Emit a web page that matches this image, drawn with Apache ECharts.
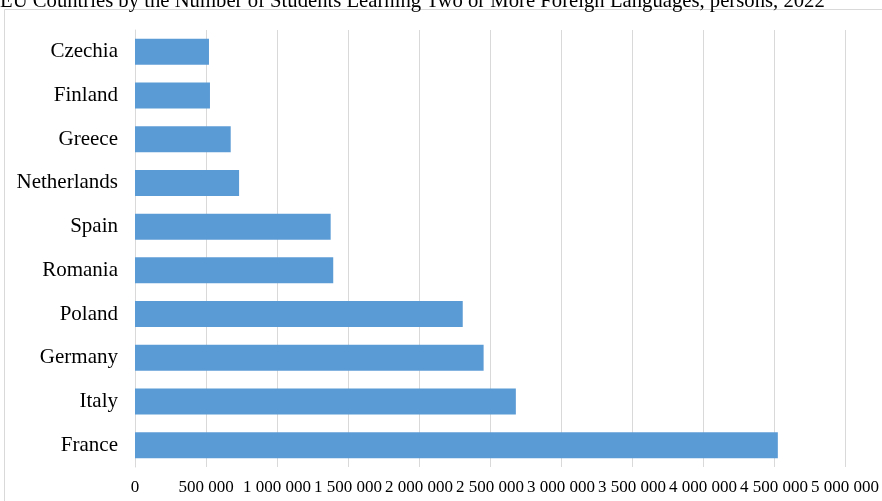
<!DOCTYPE html>
<html>
<head>
<meta charset="utf-8">
<script src="https://cdn.jsdelivr.net/npm/echarts@6/dist/echarts.min.js"></script>
<style>
html,body{margin:0;padding:0;background:#fff;}
#chart{width:882px;height:501px;}
</style>
</head>
<body>
<div id="chart"></div>
<script>
const titleText = 'EU Countries by the Number of Students Learning Two or More Foreign Languages, persons, 2022';
const countries = ['Czechia','Finland','Greece','Netherlands','Spain','Romania','Poland','Germany','Italy','France'];
const students = [521000, 528000, 674000, 733000, 1378000, 1396000, 2308000, 2455000, 2682000, 4527000];
const axisMin = 0;
const axisMax = 5000000;
const axisStep = 500000;

function fmt(v){
  return String(v).replace(/\B(?=(\d{3})+(?!\d))/g, ' ');
}

const chart = echarts.init(document.getElementById('chart'), null, {renderer:'canvas'});
const serif = '"Liberation Serif", "Times New Roman", serif';
chart.setOption({
  animation: false,
  backgroundColor: '#ffffff',
  title: {
    text: titleText,
    left: -5,
    top: -14,
    textStyle: {fontFamily: serif, fontSize: 20.7, fontWeight: 'normal', color: '#000'}
  },
  graphic: [{
    type: 'rect',
    shape: {x: 4.5, y: 9.5, width: 900, height: 600},
    style: {fill: 'none', stroke: '#d9d9d9', lineWidth: 1},
    silent: true, z: -1
  }],
  grid: {left: 135, right: 37, top: 30, bottom: 34, containLabel: false},
  xAxis: {
    type: 'value',
    min: axisMin, max: axisMax, interval: axisStep,
    axisLine: {show: false},
    axisTick: {show: false},
    splitLine: {show: true, lineStyle: {color: '#d9d9d9', width: 1}},
    axisLabel: {
      formatter: fmt, margin: 12,
      fontFamily: serif, fontSize: 17, color: '#000'
    }
  },
  yAxis: {
    type: 'category',
    data: countries,
    inverse: true,
    axisLine: {show: true, lineStyle: {color: '#d9d9d9'}},
    axisTick: {show: false},
    axisLabel: {margin: 17, fontFamily: serif, fontSize: 21, color: '#000'}
  },
  series: [{
    type: 'bar',
    data: students,
    barWidth: 26,
    itemStyle: {color: '#5b9bd5'}
  }]
});
</script>
</body>
</html>
